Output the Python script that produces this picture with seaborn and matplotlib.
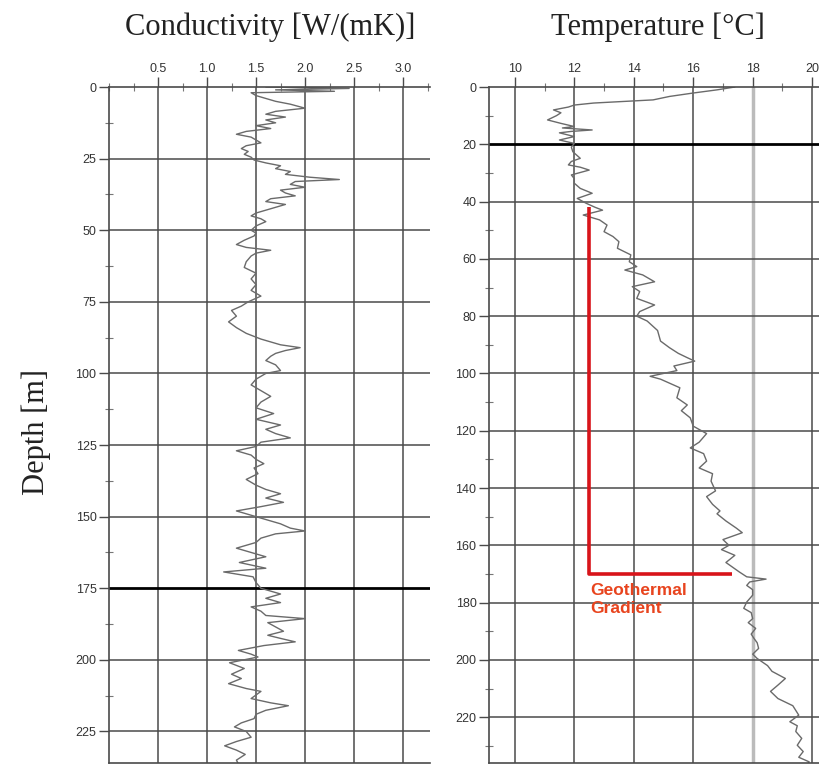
import numpy as np
import pandas as pd
import matplotlib
matplotlib.use("Agg")
import matplotlib.pyplot as plt
import seaborn as sns
from matplotlib.ticker import MultipleLocator

# ---------------- data ----------------
cond_depth = [0, 0.5, 1.0, 1.5, 2, 3, 4, 5, 6, 7.4, 8.5, 9.5, 10.5, 11.5, 12.5, 13.5, 14.5, 15.5,
              16.5, 17.5, 18.5, 19.5, 20.5, 21.5, 22.5, 23.5, 24.5, 25.5, 26.5, 27.5, 28.5, 29.5,
              30.5, 31.5, 32.3, 33, 34, 35, 36, 37, 38, 39, 40, 41, 42, 43, 44, 45, 46, 47, 48.5,
              50, 51, 52, 53.5, 55, 56, 57, 58, 59, 61, 63, 65, 67, 69, 71, 73, 75, 76.5, 78, 80,
              82, 84, 86, 88, 90, 91, 92, 93, 94, 95.5, 97, 99, 100, 102, 104, 106, 108, 110, 112,
              114, 116, 118, 119.5, 121, 122.5, 124, 125.5, 127, 128.5, 130, 131.5, 133, 135, 137,
              139, 140.5, 142, 143.5, 145, 146.5, 148, 149.5, 151, 152.5, 154, 155, 156, 157.5,
              159, 161, 162.5, 164, 166, 168, 169.3, 171, 173, 175, 177, 178.5, 180, 181.5, 183,
              184.5, 185.6, 187, 188.5, 190, 191.4, 192.5, 193.7, 195, 196.7, 198, 199, 201, 203,
              205, 206.5, 208.3, 210, 211, 213.5, 215, 216, 217.6, 219, 220.5, 222, 223.4, 225,
              227, 228.5, 230, 231.5, 233, 235, 237]
cond_value = [1.6, 2.45, 1.7, 2.3, 1.45, 1.5, 1.6, 1.7, 1.85, 2.0, 1.7, 1.6, 1.8, 1.6, 1.7, 1.5,
              1.65, 1.4, 1.3, 1.45, 1.5, 1.55, 1.4, 1.35, 1.42, 1.38, 1.45, 1.48, 1.6, 1.75, 1.7,
              1.85, 1.8, 2.05, 2.35, 1.9, 1.85, 2.0, 1.75, 1.8, 1.9, 1.65, 1.6, 1.8, 1.7, 1.6, 1.5,
              1.45, 1.55, 1.6, 1.5, 1.45, 1.5, 1.48, 1.38, 1.3, 1.4, 1.65, 1.5, 1.45, 1.4, 1.38,
              1.5, 1.45, 1.5, 1.45, 1.55, 1.42, 1.35, 1.25, 1.3, 1.22, 1.3, 1.4, 1.55, 1.75, 1.95,
              1.8, 1.7, 1.65, 1.6, 1.7, 1.75, 1.6, 1.5, 1.45, 1.55, 1.65, 1.55, 1.5, 1.68, 1.5,
              1.75, 1.6, 1.7, 1.85, 1.55, 1.5, 1.3, 1.45, 1.5, 1.58, 1.48, 1.52, 1.4, 1.5, 1.6,
              1.75, 1.6, 1.78, 1.55, 1.3, 1.45, 1.6, 1.75, 1.85, 2.0, 1.7, 1.55, 1.5, 1.3, 1.45,
              1.6, 1.33, 1.6, 1.17, 1.47, 1.5, 1.55, 1.75, 1.6, 1.75, 1.45, 1.55, 1.6, 2.0, 1.62,
              1.7, 1.78, 1.62, 1.75, 1.9, 1.58, 1.32, 1.45, 1.52, 1.23, 1.38, 1.25, 1.35, 1.22,
              1.4, 1.55, 1.45, 1.65, 1.83, 1.6, 1.5, 1.48, 1.35, 1.28, 1.4, 1.45, 1.3, 1.18, 1.3,
              1.39, 1.3, 1.33]

temp_depth = [0, 1, 2.1, 3.3, 4.5, 5.6, 6.3, 7, 8, 9, 10, 11.5, 12.7, 13.8, 14.3, 15, 15.5, 16,
              17.3, 18.5, 19.7, 21, 22.6, 24, 24.9, 26, 27.2, 28, 29, 30.7, 32, 33.6, 35.4, 37.1,
              38.9, 40.6, 42, 43, 44.7, 46.4, 48.2, 50.5, 52.2, 54, 56.3, 58.6, 61, 62.7, 63.9,
              65.6, 68, 69.7, 71.4, 73.8, 76.1, 78.4, 80, 81.7, 85, 88.7, 91, 93, 94.5, 95.7,
              97.4, 99, 101, 102, 105, 108.5, 111, 113, 115.5, 118.4, 121, 124, 126, 128, 130.6,
              133, 135, 137.6, 141, 143, 145.7, 148, 149, 151.5, 154, 155.6, 158, 160, 161.5,
              163.5, 166, 169.3, 171, 171.8, 172.8, 174, 175.5, 177.4, 179.8, 182, 183.5, 185.6,
              187, 189, 191, 192.6, 194, 196, 198, 199.5, 202, 204, 206.5, 208.8, 211, 213.5,
              216, 219.3, 221.6, 223, 225, 227.4, 229.8, 232, 234, 235.6, 237]
temp_value = [17.4, 16.8, 16.0, 15.2, 14.65, 12.65, 12.0, 11.8, 11.3, 11.55, 11.4, 11.1, 11.55,
              12.0, 11.6, 12.6, 11.9, 11.5, 12.0, 11.5, 12.0, 11.9, 11.95, 12.1, 12.2, 11.9,
              11.8, 12.2, 12.5, 11.9, 12.0, 12.0, 12.2, 12.6, 12.1, 12.4, 12.7, 12.95, 12.3,
              12.85, 13.1, 13.0, 13.3, 13.5, 13.45, 13.9, 13.85, 14.1, 13.7, 14.3, 14.7, 13.95,
              14.2, 14.1, 14.7, 14.2, 14.1, 14.45, 14.8, 14.9, 15.2, 15.5, 15.8, 16.05, 15.35,
              15.45, 14.55, 14.9, 15.55, 15.45, 15.8, 15.6, 15.9, 16.0, 16.45, 16.2, 15.9, 16.35,
              16.45, 16.2, 16.65, 16.6, 16.75, 16.45, 16.65, 16.9, 16.8, 17.1, 17.45, 17.65,
              17.0, 17.2, 16.95, 17.4, 17.1, 17.55, 17.8, 18.45, 17.9, 17.8, 18.0, 18.0, 17.8,
              17.7, 17.95, 18.0, 17.85, 18.1, 17.95, 18.05, 18.15, 18.2, 18.0, 18.15, 18.5,
              18.65, 19.1, 18.85, 18.6, 18.85, 19.35, 19.55, 19.25, 19.5, 19.45, 19.65, 19.5,
              19.7, 19.55, 19.9, 19.8]

cond_ticks = [0.5, 1.0, 1.5, 2.0, 2.5, 3.0]
cond_ticklabels = ["0.5", "1.0", "1.5", "2.0", "2.5", "3.0"]
temp_ticks = [10, 12, 14, 16, 18, 20]
cond_depth_ticks = [0, 25, 50, 75, 100, 125, 150, 175, 200, 225]
temp_depth_ticks = [0, 20, 40, 60, 80, 100, 120, 140, 160, 180, 200, 220]

gradient_T = [12.5, 12.5, 17.3]
gradient_z = [42, 170, 170]

# ---------------- figure ----------------
sns.set_theme(style="white")
plt.rcParams["font.family"] = ["Liberation Sans", "DejaVu Sans"]

fig = plt.figure(figsize=(8.19, 7.67), dpi=100)
ax1 = fig.add_axes([109 / 819, 1 - 763 / 767, 321 / 819, (763 - 87) / 767])
ax2 = fig.add_axes([489 / 819, 1 - 763 / 767, 338 / 819, (763 - 87) / 767])

grid_c = "#4a4a4a"
curve_c = "#6a6a6a"

df1 = pd.DataFrame({"depth": cond_depth, "cond": cond_value})
df2 = pd.DataFrame({"depth": temp_depth, "temp": temp_value})

sns.lineplot(data=df1, x="cond", y="depth", sort=False, estimator=None, ax=ax1,
             color=curve_c, linewidth=1.0)
sns.lineplot(data=df2, x="temp", y="depth", sort=False, estimator=None, ax=ax2,
             color=curve_c, linewidth=1.0)

for ax in (ax1, ax2):
    ax.set_facecolor("white")
    ax.xaxis.tick_top()
    for s in ["top", "left", "bottom"]:
        ax.spines[s].set_visible(True)
        ax.spines[s].set_color(grid_c)
        ax.spines[s].set_linewidth(1.2)
    ax.spines["right"].set_visible(False)
    ax.tick_params(axis="both", which="major", direction="out", length=7, width=1,
                   color=grid_c, labelsize=9, labelcolor="#333333", pad=2)
    ax.tick_params(axis="both", which="minor", direction="inout", length=6, width=0.8,
                   color="#777777")
    ax.tick_params(axis="x", which="both", top=True, bottom=False, labeltop=True,
                   labelbottom=False)
    ax.tick_params(axis="y", which="both", left=True, right=False)
    ax.set_xlabel("")
    ax.set_ylabel("")

# left panel
ax1.set_xlim(0, 3.275)
ax1.set_ylim(236, 0)
ax1.set_xticks(cond_ticks)
ax1.set_xticklabels(cond_ticklabels)
ax1.xaxis.set_minor_locator(MultipleLocator(0.25))
ax1.set_yticks(cond_depth_ticks)
ax1.yaxis.set_minor_locator(MultipleLocator(12.5))
for t in cond_ticks:
    ax1.axvline(t, color=grid_c, lw=1.1, zorder=0)
for d in cond_depth_ticks[1:]:
    ax1.axhline(d, color="black" if d == 175 else grid_c, lw=2.0 if d == 175 else 1.1, zorder=0)

# right panel
ax2.set_xlim(9.13, 20.5)
ax2.set_ylim(236, 0)
ax2.set_xticks(temp_ticks)
ax2.xaxis.set_minor_locator(MultipleLocator(1))
ax2.set_yticks(temp_depth_ticks)
ax2.yaxis.set_minor_locator(MultipleLocator(10))
for t in temp_ticks:
    if t == 18:
        ax2.axvline(t, color="#bbbbbb", lw=2.5, zorder=0)
    else:
        ax2.axvline(t, color=grid_c, lw=1.1, zorder=0)
for d in temp_depth_ticks[1:]:
    ax2.axhline(d, color="black" if d == 20 else grid_c, lw=2.0 if d == 20 else 1.1, zorder=0)

ax2.plot(gradient_T, gradient_z, color="#d8141a", lw=2.6, solid_capstyle="butt", zorder=3)
ax2.text(12.55, 173.0, "Geothermal\nGradient", color="#e8441e", fontsize=12.5,
         fontweight="bold", ha="left", va="top", linespacing=1.3, zorder=4)

# titles
fig.text(270 / 819, 1 - 27 / 767, "Conductivity [W/(mK)]", family="Liberation Serif",
         fontsize=22, ha="center", va="center", color="#222222")
fig.text(658 / 819, 1 - 27 / 767, "Temperature [°C]", family="Liberation Serif",
         fontsize=22, ha="center", va="center", color="#222222")
fig.text(36 / 819, 1 - 432 / 767, "Depth [m]", family="Liberation Serif",
         fontsize=22, ha="center", va="center", rotation=90, color="#222222")

fig.savefig("out.png", dpi=100, facecolor="white")
